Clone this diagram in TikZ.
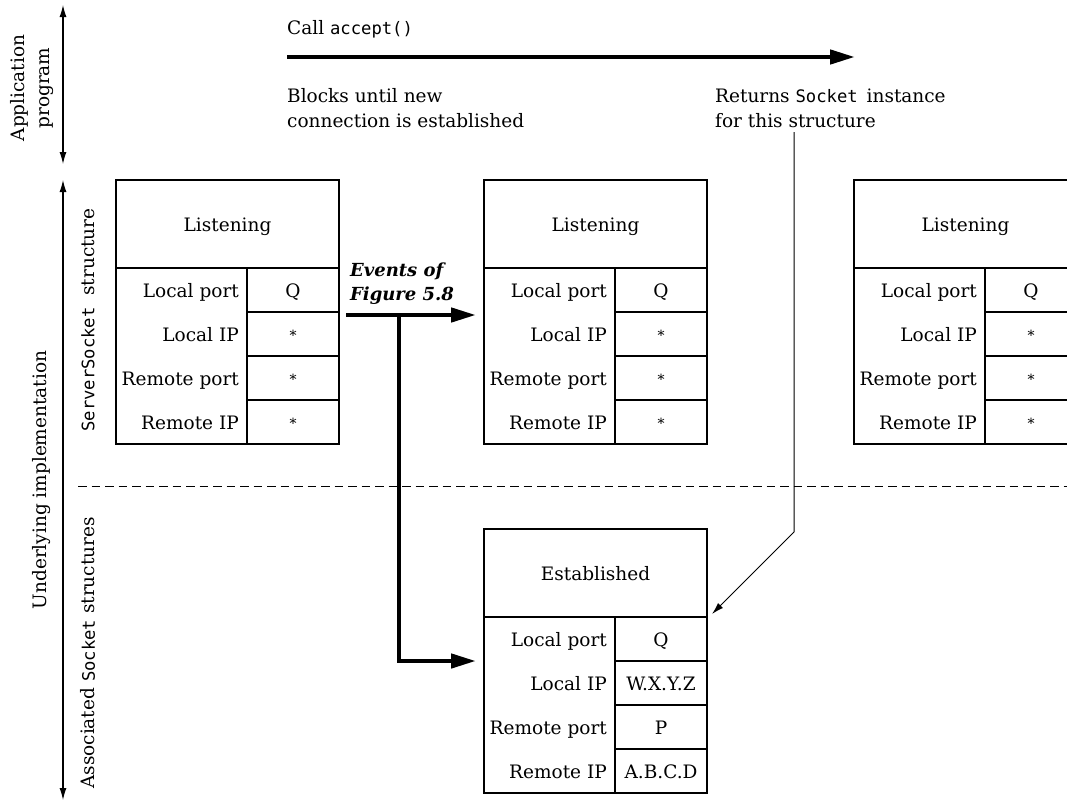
\documentclass[tikz,border=0pt]{standalone}
\usepackage{fontspec}
\setmainfont{DejaVu Serif}
\setmonofont{DejaVu Sans Mono}[Scale=0.93]
\usetikzlibrary{arrows.meta}

% small raised asterisk used for wildcard entries
\newcommand\wild{\raisebox{1pt}{\fontsize{14}{14}\selectfont *}}

% socket table: name, x, y, state, four values
\newcommand\socktable[8]{%
  \begin{scope}[shift={(#2,#3)}]
    \draw[tbl] (0,0) rectangle (223,264);
    \draw[tbl] (0,88) -- (223,88);
    \draw[tbl] (131,88) -- (131,264);
    \draw[tbl] (131,132) -- (223,132) (131,176) -- (223,176) (131,220) -- (223,220);
    \node[txt, anchor=base] (#1-head) at (111.5,51) {#4};
    \node[lbl] (#1-lp) at (123,117) {Local port};
    \node[lbl] (#1-li) at (123,161) {Local IP};
    \node[lbl] (#1-rp) at (123,205) {Remote port};
    \node[lbl] (#1-ri) at (123,249) {Remote IP};
    \node[val] (#1-v1) at (177,117) {#5};
    \node[val] (#1-v2) at (177,161) {#6};
    \node[val] (#1-v3) at (177,205) {#7};
    \node[val] (#1-v4) at (177,249) {#8};
  \end{scope}}

\begin{document}
\begin{tikzpicture}[x=1pt,y=-1pt,
  tbl/.style={draw, line width=1.1pt},
  txt/.style={font=\fontsize{18.5}{25}\selectfont, inner sep=0pt},
  lbl/.style={txt, anchor=base east},
  val/.style={txt, anchor=base},
  side/.style={txt, rotate=90, align=center},
  thin/.style={draw, line width=1pt, -{Latex[length=12pt,width=7pt]}},
  span/.style={draw, line width=1.1pt, {Latex[length=12pt,width=7pt]}-{Latex[length=12pt,width=7pt]}},
  thick/.style={draw, line width=4.5pt, -{Triangle[length=25pt,width=14pt]}},
  emph/.style={txt, font=\fontsize{18}{23}\selectfont\bfseries\itshape, anchor=base west}]

\useasboundingbox (0,0) rectangle (1067,803);
\clip (0,0) rectangle (1067,803);

% left-hand layer markers
\coordinate (app-top) at (63,5);
\coordinate (app-bot) at (63,164);
\coordinate (imp-top) at (63,180);
\coordinate (imp-bot) at (63,800);
\draw[span] (app-top) -- (app-bot);
\draw[span] (imp-top) -- (imp-bot);
\node[side] (app) at (32,88) {Application\\program};
\node[side] (impl) at (42,480) {Underlying implementation};
\node[side] (ssock) at (88,320) {\texttt{ServerSocket} \ structure};
\node[side] (asock) at (88,653) {Associated \texttt{Socket} structures};

% application call
\node[txt, anchor=base west] (call) at (287,34) {Call \texttt{accept()}};
\coordinate (call-start) at (287,57);
\coordinate (call-end) at (855,57);
\draw[thick] (call-start) -- (call-end);
\node[txt, anchor=base west, align=left] (blocks) at (287,127)
  {Blocks until new\\connection is established};
\node[txt, anchor=base west, align=left] (returns) at (715,127)
  {Returns \texttt{Socket} \,instance\\for this structure};

% boundary between server and connection structures
\coordinate (sep-l) at (78,486);
\coordinate (sep-r) at (1067,486);
\draw[line width=1pt, dash pattern=on 8.5pt off 5pt] (sep-l) -- (sep-r);

% socket structures
\socktable{L}{116}{180}{Listening}{Q}{\wild}{\wild}{\wild}
\socktable{M}{484}{180}{Listening}{Q}{\wild}{\wild}{\wild}
\socktable{R}{854}{180}{Listening}{Q}{\wild}{\wild}{\wild}
\socktable{E}{484}{529}{Established}{Q}{W.X.Y.Z}{P}{A.B.C.D}

% connection events
\node[emph] (ev1) at (350,276) {Events of};
\node[emph] (ev2) at (350,300) {Figure 5.8};
\coordinate (ev-start) at (346,315);
\coordinate (ev-split) at (399,315);
\coordinate (ev-bend) at (399,661);
\coordinate (ev-mid) at (476,315);
\coordinate (ev-est) at (476,661);
\draw[thick] (ev-start) -- (ev-mid);
\draw[thick] (ev-split) -- (ev-bend) -- (ev-est);

% returned socket pointer
\coordinate (ret-top) at (794,132);
\coordinate (ret-bend) at (794,532);
\coordinate (ret-tip) at (712,614);
\draw[thin] (ret-top) -- (ret-bend) -- (ret-tip);
\end{tikzpicture}
\end{document}
